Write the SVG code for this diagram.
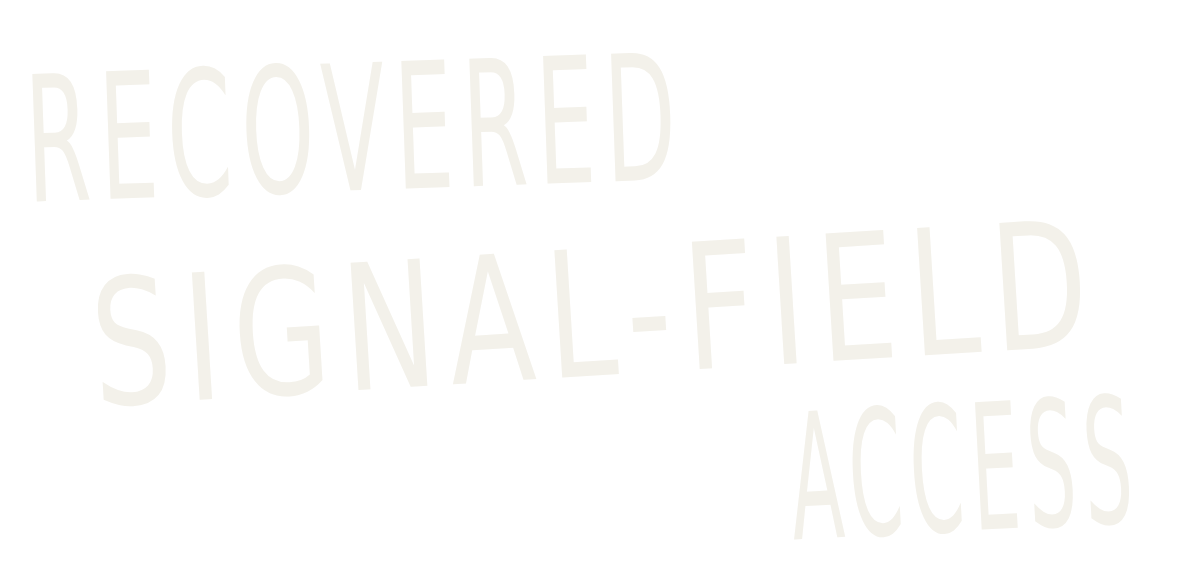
<svg xmlns="http://www.w3.org/2000/svg" width="1180" height="570" viewBox="0 0 1180 570">
<style>
text{font-family:"DejaVu Sans Condensed","DejaVu Sans",sans-serif;fill:#f3f1ea;font-size:175px;letter-spacing:16px}
</style>
<rect width="1180" height="570" fill="#ffffff"/>
<text x="25" y="190" textLength="660" lengthAdjust="spacingAndGlyphs" transform="rotate(-2 360 120)">RECOVERED</text>
<text x="90" y="375" textLength="1010" lengthAdjust="spacingAndGlyphs" transform="rotate(-3.5 600 300)">SIGNAL-FIELD</text>
<text x="790" y="530" textLength="350" lengthAdjust="spacingAndGlyphs" transform="rotate(-3 975 470)">ACCESS</text>
</svg>
